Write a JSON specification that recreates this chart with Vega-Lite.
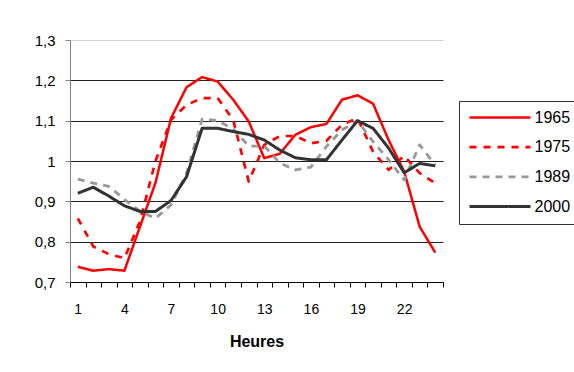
{
  "$schema": "https://vega.github.io/schema/vega-lite/v6.json",
  "width": 373,
  "height": 242,
  "autosize": "none",
  "padding": {"left": 70, "top": 40, "right": 131, "bottom": 90},
  "background": "white",
  "config": {
    "font": "Liberation Sans",
    "view": {"stroke": null}
  },
  "datasets": {
    "d": [
      {"h":1,"year":"1965","v":0.738},{"h":2,"year":"1965","v":0.728},{"h":3,"year":"1965","v":0.732},{"h":4,"year":"1965","v":0.728},
      {"h":5,"year":"1965","v":0.837},{"h":6,"year":"1965","v":0.946},{"h":7,"year":"1965","v":1.106},{"h":8,"year":"1965","v":1.183},
      {"h":9,"year":"1965","v":1.208},{"h":10,"year":"1965","v":1.197},{"h":11,"year":"1965","v":1.152},{"h":12,"year":"1965","v":1.098},
      {"h":13,"year":"1965","v":1.007},{"h":14,"year":"1965","v":1.018},{"h":15,"year":"1965","v":1.065},{"h":16,"year":"1965","v":1.084},
      {"h":17,"year":"1965","v":1.092},{"h":18,"year":"1965","v":1.152},{"h":19,"year":"1965","v":1.163},{"h":20,"year":"1965","v":1.142},
      {"h":21,"year":"1965","v":1.052},{"h":22,"year":"1965","v":0.974},{"h":23,"year":"1965","v":0.837},{"h":24,"year":"1965","v":0.773},

      {"h":1,"year":"1975","v":0.858},{"h":2,"year":"1975","v":0.788},{"h":3,"year":"1975","v":0.769},{"h":4,"year":"1975","v":0.759},
      {"h":5,"year":"1975","v":0.85},{"h":6,"year":"1975","v":1.0},{"h":7,"year":"1975","v":1.102},{"h":8,"year":"1975","v":1.139},
      {"h":9,"year":"1975","v":1.156},{"h":10,"year":"1975","v":1.156},{"h":11,"year":"1975","v":1.102},{"h":12,"year":"1975","v":0.949},
      {"h":13,"year":"1975","v":1.04},{"h":14,"year":"1975","v":1.062},{"h":15,"year":"1975","v":1.062},{"h":16,"year":"1975","v":1.044},
      {"h":17,"year":"1975","v":1.05},{"h":18,"year":"1975","v":1.09},{"h":19,"year":"1975","v":1.106},{"h":20,"year":"1975","v":1.023},
      {"h":21,"year":"1975","v":0.978},{"h":22,"year":"1975","v":1.013},{"h":23,"year":"1975","v":0.97},{"h":24,"year":"1975","v":0.945},

      {"h":1,"year":"1989","v":0.955},{"h":2,"year":"1989","v":0.945},{"h":3,"year":"1989","v":0.937},{"h":4,"year":"1989","v":0.905},
      {"h":5,"year":"1989","v":0.875},{"h":6,"year":"1989","v":0.858},{"h":7,"year":"1989","v":0.891},{"h":8,"year":"1989","v":0.97},
      {"h":9,"year":"1989","v":1.104},{"h":10,"year":"1989","v":1.1},{"h":11,"year":"1989","v":1.08},{"h":12,"year":"1989","v":1.037},
      {"h":13,"year":"1989","v":1.037},{"h":14,"year":"1989","v":0.995},{"h":15,"year":"1989","v":0.978},{"h":16,"year":"1989","v":0.985},
      {"h":17,"year":"1989","v":1.036},{"h":18,"year":"1989","v":1.077},{"h":19,"year":"1989","v":1.1},{"h":20,"year":"1989","v":1.048},
      {"h":21,"year":"1989","v":1.003},{"h":22,"year":"1989","v":0.953},{"h":23,"year":"1989","v":1.04},{"h":24,"year":"1989","v":0.99},

      {"h":1,"year":"2000","v":0.92},{"h":2,"year":"2000","v":0.935},{"h":3,"year":"2000","v":0.913},{"h":4,"year":"2000","v":0.889},
      {"h":5,"year":"2000","v":0.875},{"h":6,"year":"2000","v":0.875},{"h":7,"year":"2000","v":0.902},{"h":8,"year":"2000","v":0.961},
      {"h":9,"year":"2000","v":1.081},{"h":10,"year":"2000","v":1.081},{"h":11,"year":"2000","v":1.073},{"h":12,"year":"2000","v":1.066},
      {"h":13,"year":"2000","v":1.052},{"h":14,"year":"2000","v":1.027},{"h":15,"year":"2000","v":1.008},{"h":16,"year":"2000","v":1.003},
      {"h":17,"year":"2000","v":1.003},{"h":18,"year":"2000","v":1.052},{"h":19,"year":"2000","v":1.1},{"h":20,"year":"2000","v":1.081},
      {"h":21,"year":"2000","v":1.032},{"h":22,"year":"2000","v":0.971},{"h":23,"year":"2000","v":0.994},{"h":24,"year":"2000","v":0.988}
    ]
  },
  "data": {"name": "d"},
  "mark": {"type": "line", "strokeCap": "butt", "strokeJoin": "round"},
  "encoding": {
    "x": {
      "field": "h", "type": "quantitative",
      "scale": {"domain": [0.5, 24.5], "nice": false, "zero": false},
      "axis": {
        "values": [0.5,1.5,2.5,3.5,4.5,5.5,6.5,7.5,8.5,9.5,10.5,11.5,12.5,13.5,14.5,15.5,16.5,17.5,18.5,19.5,20.5,21.5,22.5,23.5,24.5],
        "labelExpr": "(datum.value + 0.5) % 3 == 1 && datum.value < 24 ? format(datum.value + 0.5, 'd') : ''",
        "labelOffset": 7.75,
        "labelFontSize": 14,
        "labelColor": "black",
        "labelPadding": 15,
        "labelFlush": false,
        "labelOverlap": false,
        "tickSize": 5,
        "tickColor": "black",
        "domainColor": "black",
        "grid": false,
        "title": "Heures",
        "titleFontSize": 16,
        "titleFontWeight": "bold",
        "titleColor": "black",
        "titlePadding": 17
      }
    },
    "y": {
      "field": "v", "type": "quantitative",
      "scale": {"domain": [0.7, 1.3], "nice": false, "zero": false},
      "axis": {
        "values": [0.7,0.8,0.9,1.0,1.1,1.2,1.3],
        "labelExpr": "replace(format(datum.value, '.1~f'), '.', ',')",
        "labelFontSize": 15,
        "labelColor": "black",
        "labelPadding": 10,
        "tickSize": 5,
        "tickColor": "#808080",
        "domainColor": "#808080",
        "grid": true,
        "gridColor": {"condition": {"test": "datum.value > 1.25", "value": "#d0d0d0"}, "value": "#202020"},
        "gridWidth": 1,
        "title": null
      }
    },
    "color": {
      "field": "year", "type": "nominal",
      "scale": {"domain": ["1965","1975","1989","2000"], "range": ["#ff0000","#ff0000","#999999","#333333"]},
      "legend": {
        "title": null,
        "orient": "none",
        "legendX": 389,
        "legendY": 61,
        "symbolType": "M-6.1,0H6.1",
        "symbolSize": 100,
        "symbolOffset": 24.5,
        "labelFontSize": 16,
        "labelColor": "black",
        "labelOffset": 26.5,
        "rowPadding": 13.7,
        "padding": 8.5,
        "strokeColor": "#333333",
        "fillColor": "white"
      }
    },
    "strokeDash": {
      "field": "year", "type": "nominal",
      "scale": {"domain": ["1965","1975","1989","2000"], "range": [[1,0],[7,7],[7,6],[1,0]]}
    },
    "strokeWidth": {
      "field": "year", "type": "nominal",
      "scale": {"domain": ["1965","1975","1989","2000"], "range": [2.5,3,3,4]}
    }
  }
}
